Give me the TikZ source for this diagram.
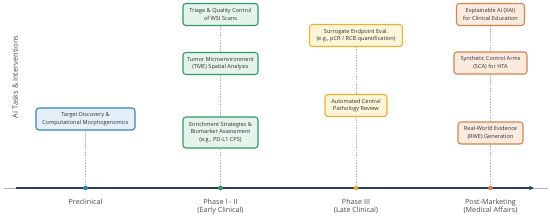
\documentclass[tikz,border=0pt]{standalone}
\usepackage{fontspec}
\setmainfont{Open Sans}
\usetikzlibrary{arrows.meta}
\definecolor{navy}{HTML}{2B3D5B}
\definecolor{cblue}{HTML}{3B83B8}
\definecolor{fblue}{HTML}{E3F0FA}
\definecolor{cgreen}{HTML}{2E9A66}
\definecolor{fgreen}{HTML}{E5F4EA}
\definecolor{cyel}{HTML}{E3B52F}
\definecolor{fyel}{HTML}{FDF5D8}
\definecolor{corg}{HTML}{D6834D}
\definecolor{forg}{HTML}{FBEBDF}
\definecolor{txt}{HTML}{303030}
\definecolor{lbl}{HTML}{4A4A4A}
\tikzset{
  task/.style={draw=#1, line width=1.1pt, rounded corners=3pt, align=center,
    font=\fontsize{5.6}{7.6}\selectfont, text=txt, inner xsep=3pt, inner ysep=2pt,
    minimum height=22pt},
  bluebox/.style={task=cblue, fill=fblue},
  greenbox/.style={task=cgreen, fill=fgreen},
  yelbox/.style={task=cyel, fill=fyel},
  orgbox/.style={task=corg, fill=forg},
  dot/.style={circle, inner sep=0pt, minimum size=4.8pt, fill=#1},
  guide/.style={draw=gray!55, line width=0.5pt, dash pattern=on 1.5pt off 1.2pt},
  phase/.style={align=center, font=\fontsize{7.2}{7.8}\selectfont, text=lbl, anchor=north},
}
\begin{document}
\begin{tikzpicture}[x=1pt,y=1pt]
\useasboundingbox (0,0) rectangle (550,215);
% axis
\coordinate (l0) at (4,27);
\coordinate (l1) at (16,27);
\coordinate (r1) at (534,27);
\coordinate (r0) at (548,27);
\draw[gray!60, line width=0.6pt] (l0) -- (r0);
\draw[navy, line width=1.7pt, -{Stealth[length=5pt,width=4.5pt]}] (l1) -- (r1);
% dots
\node[dot=cblue] (d1) at (85.5,27) {};
\node[dot=cgreen] (d2) at (220.5,27) {};
\node[dot=cyel] (d3) at (356,27) {};
\node[dot=corg] (d4) at (490.5,27) {};
% boxes
\node[bluebox, minimum width=99pt] (p1) at (85.5,96) {Target Discovery \&\\Computational Morphogenomics};
\node[greenbox, minimum width=75pt] (g1) at (220.5,200.5) {Triage \& Quality Control\\of WSI Scans};
\node[greenbox, minimum width=75pt] (g2) at (220.5,151.5) {Tumor Microenvironment\\(TME) Spatial Analysis};
\node[greenbox, minimum width=75pt, minimum height=31pt] (g3) at (220.5,82.5) {Enrichment Strategies \&\\Biomarker Assessment\\(e.g., PD-L1 CPS)};
\node[yelbox, minimum width=93pt] (y1) at (356,179.5) {Surrogate Endpoint Eval.\\(e.g., pCR / RCB quantification)};
\node[yelbox, minimum width=62pt] (y2) at (356,109.5) {Automated Central\\Pathology Review};
\node[orgbox, minimum width=68pt] (o1) at (490.5,200.5) {Explainable AI (XAI)\\for Clinical Education};
\node[orgbox, minimum width=73pt] (o2) at (490.5,152) {Synthetic Control Arms\\(SCA) for HTA};
\node[orgbox, minimum width=65pt] (o3) at (490.5,82) {Real-World Evidence\\(RWE) Generation};
% guides
\draw[guide] (d1) -- (p1);
\draw[guide] (d2) -- (g3); \draw[guide] (g3) -- (g2); \draw[guide] (g2) -- (g1);
\draw[guide] (d3) -- (y2); \draw[guide] (y2) -- (y1);
\draw[guide] (d4) -- (o3); \draw[guide] (o3) -- (o2); \draw[guide] (o2) -- (o1);
% phase labels
\node[phase] (t1) at (85.5,19.5) {Preclinical};
\node[phase] (t2) at (220.5,19.5) {Phase I - II\\(Early Clinical)};
\node[phase] (t3) at (356,19.5) {Phase III\\(Late Clinical)};
\node[phase] (t4) at (490.5,19.5) {Post-Marketing\\(Medical Affairs)};
% y label
\node[rotate=90, font=\fontsize{7.4}{8}\selectfont, text=lbl] (yl) at (15,138) {AI Tasks \& Interventions};
\end{tikzpicture}
\end{document}
